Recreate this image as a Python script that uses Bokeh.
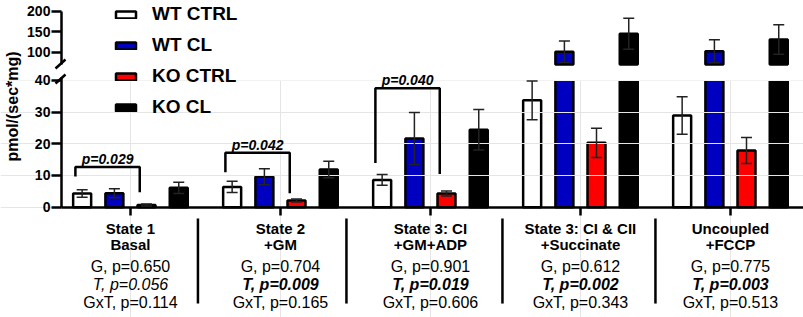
import numpy as np
from bokeh.plotting import figure
from bokeh.models import (Range1d, LinearAxis, FixedTicker, ColumnDataSource, Whisker, TeeHead,
                          Legend, LegendItem, BoxAnnotation, Label, Arrow, CustomJSTransform)
from bokeh.core.properties import value, field
from bokeh.transform import dodge, transform
from bokeh.embed import file_html
from bokeh.resources import INLINE

# ---------------- data ----------------
groups = ["State 1", "State 2", "State 3: CI", "State 3: CI & CII", "Uncoupled"]
group_sub = ["Basal", "+GM", "+GM+ADP", "+Succinate", "+FCCP"]
series = ["WT CTRL", "WT CL", "KO CTRL", "KO CL"]
colors = ["white", "#0000C0", "#FF0000", "black"]

wt_ctrl = [4.3, 6.4, 8.6, 33.7, 28.9]
wt_ctrl_sem = [1.2, 1.8, 1.7, 6.1, 5.9]
wt_cl = [4.4, 9.6, 21.7, 101.0, 102.0]
wt_cl_sem = [1.4, 2.5, 8.2, 26.0, 28.0]
ko_ctrl = [0.7, 2.1, 4.3, 20.3, 17.9]
ko_ctrl_sem = [0.3, 0.5, 0.8, 4.6, 4.1]
ko_cl = [6.1, 11.9, 24.4, 145.0, 131.0]
ko_cl_sem = [1.8, 2.6, 6.4, 38.0, 36.0]

p_genotype = ["0.650", "0.704", "0.901", "0.612", "0.775"]
p_treatment = ["0.056", "0.009", "0.019", "0.002", "0.003"]
p_interaction = ["0.114", "0.165", "0.606", "0.343", "0.513"]

bracket_groups = [0, 1, 2]
bracket_top = [12.7, 17.2, 37.5]
bracket_left_end = [9.7, 11.0, 13.9]
bracket_right_end = [4.7, 4.4, 10.5]
bracket_p = ["p=0.029", "p=0.042", "p=0.040"]

lower_ticks = [0, 10, 20, 30, 40]
upper_ticks = [100, 150, 200]

# ---------------- layout constants ----------------
FONT = "Liberation Sans"
X_RANGE = (-0.8663, 4.487)
AXIS_X = -0.46
LOW_RANGE = (-34.8, 65.2)
HIGH_RANGE = (-547.0, 226.0)
BREAK_LOW = 40
BREAK_HIGH = 70
OFFSETS = [-0.322, -0.107, 0.107, 0.322]
BAR_W = 0.12
BRACKET_SHIFT = -0.045
SEPARATORS = [0.45, 1.44, 2.48, 3.5]
SEP_Y = (-3.6, -30.4)
TABLE_Y = [-6.6, -11.8, -18.6, -24.3, -30.1]

p = figure(width=803, height=317, x_range=Range1d(*X_RANGE), y_range=Range1d(*LOW_RANGE),
           x_axis_location=None, y_axis_location=None, output_backend="svg",
           toolbar_location=None, min_border_left=0, min_border_right=0,
           min_border_top=0, min_border_bottom=0,
           background_fill_color="white", border_fill_color="white")
p.outline_line_color = None
p.extra_y_ranges = {"top": Range1d(*HIGH_RANGE)}

# lower segment bars are cut just above the break; a white mask hides the cut edge
cut_low = CustomJSTransform(args=dict(cap=BREAK_LOW + 0.6),
                            v_func="return xs.map((x) => Math.min(x, cap))")
p.add_layout(BoxAnnotation(bottom=BREAK_LOW, top=LOW_RANGE[1] * 10,
                           left=X_RANGE[0] - 5, right=X_RANGE[1] + 5,
                           fill_color="white", fill_alpha=1.0,
                           line_alpha=0, level="underlay"))

means = [wt_ctrl, wt_cl, ko_ctrl, ko_cl]
sems = [wt_ctrl_sem, wt_cl_sem, ko_ctrl_sem, ko_cl_sem]
n = len(groups)
lower_renderers = []


def sub(data, idx):
    return {k: [v[i] for i in idx] for k, v in data.items()}


def whisker(src, off, **kw):
    return Whisker(base=dodge("g", off, range=p.x_range), upper="hi", lower="lo",
                   source=src, line_width=1.5, line_color="#222222", level="annotation",
                   upper_head=TeeHead(size=11, line_width=1.5, line_color="#222222"),
                   lower_head=TeeHead(size=11, line_width=1.5, line_color="#222222"), **kw)


for j, (name, m, s, c) in enumerate(zip(series, means, sems, colors)):
    data = dict(g=list(range(n)), mean=m,
                lo=[a - b for a, b in zip(m, s)], hi=[a + b for a, b in zip(m, s)])
    src = ColumnDataSource(data)
    r = p.vbar(x=dodge("g", OFFSETS[j], range=p.x_range), top=transform("mean", cut_low),
               bottom=0, width=BAR_W, source=src, fill_color=c, line_color="black",
               line_width=2.5, level="image")
    lower_renderers.append(r)

    low_idx = [i for i, v in enumerate(m) if v <= BREAK_LOW]
    high_idx = [i for i, v in enumerate(m) if v > BREAK_HIGH]
    p.add_layout(whisker(ColumnDataSource(sub(data, low_idx)), OFFSETS[j]))
    if high_idx:
        hsrc = ColumnDataSource(sub(data, high_idx))
        p.vbar(x=dodge("g", OFFSETS[j], range=p.x_range), top="mean", bottom=BREAK_HIGH,
               width=BAR_W, source=hsrc, fill_color=c, line_color="black", line_width=2.5,
               y_range_name="top")
        p.add_layout(whisker(hsrc, OFFSETS[j], y_range_name="top"))

# significance brackets
bxs, bys, tx, ty = [], [], [], []
for g, top, le, re_ in zip(bracket_groups, bracket_top, bracket_left_end, bracket_right_end):
    xl = g + OFFSETS[0] + BRACKET_SHIFT
    xr = g + OFFSETS[2] + BRACKET_SHIFT
    bxs.append([xl, xl, xr, xr])
    bys.append([le, top, top, re_])
    tx.append((xl + xr) / 2)
    ty.append(top + 2.5)
p.multi_line(xs=bxs, ys=bys, line_color="black", line_width=2.5)
p.text(x=tx, y=ty, text=bracket_p, text_font=value(FONT), text_font_size="14px",
       text_font_style="bold italic", text_align="center", text_baseline="alphabetic",
       text_color="black")

# table below the axis
tbl = dict(x=[], y=[], text=[], style=[], size=[])
for i in range(n):
    t_style = "italic" if float(p_treatment[i]) >= 0.05 else "bold italic"
    rows = [(groups[i], "bold", "15px"), (group_sub[i], "bold", "15px"),
            ("G, p=" + p_genotype[i], "normal", "16px"),
            ("T, p=" + p_treatment[i], t_style, "16px"),
            ("GxT, p=" + p_interaction[i], "normal", "16px")]
    for (txt, st, sz), yy in zip(rows, TABLE_Y):
        tbl["x"].append(i)
        tbl["y"].append(yy)
        tbl["text"].append(txt)
        tbl["style"].append(st)
        tbl["size"].append(sz)
p.text(x="x", y="y", text="text", source=ColumnDataSource(tbl), text_font=value(FONT),
       text_font_size=field("size"), text_font_style=field("style"),
       text_align="center", text_baseline="middle", text_color="black")
p.segment(x0=SEPARATORS, y0=SEP_Y[0], x1=SEPARATORS, y1=SEP_Y[1],
          line_color="black", line_width=2.5)

# axes (fixed inside the frame so both segments share one line)
yaxis = LinearAxis(ticker=FixedTicker(ticks=lower_ticks), bounds=(0, 41), fixed_location=AXIS_X)
upper_axis = LinearAxis(y_range_name="top", ticker=FixedTicker(ticks=upper_ticks),
                        bounds=(BREAK_HIGH, 200), fixed_location=AXIS_X)
for ax in (yaxis, upper_axis):
    ax.axis_line_width = 2.5
    ax.major_tick_line_width = 2.5
    ax.major_tick_out = 10
    ax.major_tick_in = 0
    ax.minor_tick_line_color = None
    ax.major_label_text_font = FONT
    ax.major_label_text_font_size = "14px"
    ax.major_label_text_font_style = "bold"
    ax.major_label_text_color = "black"
    ax.major_label_standoff = 1
p.add_layout(yaxis, "left")
p.add_layout(upper_axis, "left")

xaxis = LinearAxis(ticker=FixedTicker(ticks=list(range(n))), fixed_location=0,
                   bounds=(AXIS_X, X_RANGE[1]))
xaxis.axis_line_width = 2.5
xaxis.major_tick_line_width = 2.5
xaxis.major_tick_out = 8
xaxis.major_tick_in = 0
xaxis.minor_tick_line_color = None
xaxis.major_label_overrides = {i: "" for i in range(n)}
p.add_layout(xaxis, "below")

# axis break marks
p.add_layout(Arrow(end=None, x_start=55, y_start=249, x_end=65, y_end=258,
                   start_units="screen", end_units="screen", line_width=2.5, line_color="black"))
p.add_layout(Arrow(end=None, x_start=55, y_start=234, x_end=65, y_end=243,
                   start_units="screen", end_units="screen", line_width=2.5, line_color="black"))

# y axis title
p.add_layout(Label(x=12, y=211, x_units="screen", y_units="screen", text="pmol/(sec*mg)",
                   angle=np.pi / 2, text_align="center", text_baseline="middle",
                   text_font=FONT, text_font_size="16px", text_font_style="bold",
                   text_color="black"))

legend = Legend(items=[LegendItem(label=s, renderers=[r]) for s, r in zip(series, lower_renderers)],
                location=(113, 199), padding=0, margin=0, spacing=9, glyph_width=25,
                glyph_height=9, label_height=22, label_standoff=14,
                label_text_font=FONT, label_text_font_size="19px", label_text_font_style="bold",
                label_text_color="black", border_line_color=None, background_fill_alpha=0)
p.add_layout(legend)

open("out.html", "w").write(file_html(p, INLINE))
